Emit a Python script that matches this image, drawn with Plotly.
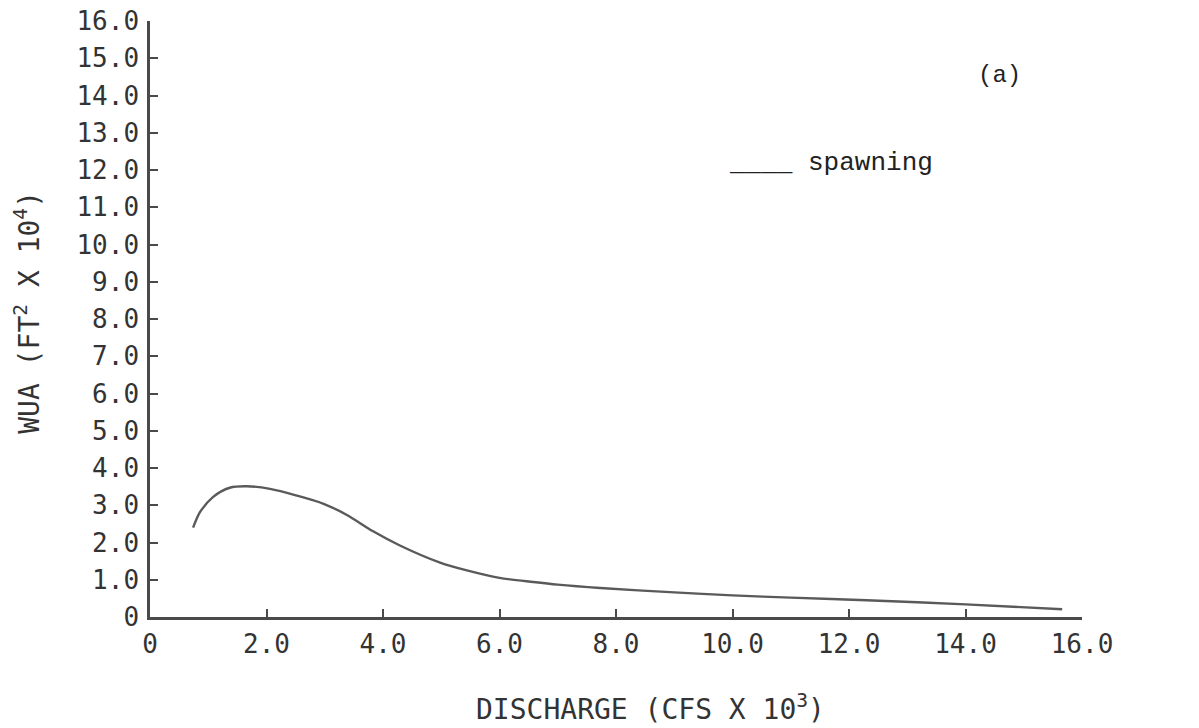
import plotly.graph_objects as go

discharge = [0.74, 0.86, 1.08, 1.37, 1.66, 2.06, 2.52, 2.98, 3.38, 3.83, 4.29, 4.98,
             5.44, 6.00, 6.58, 7.00, 7.73, 9.00, 10.0, 11.0, 12.3, 14.0, 15.66]
wua = [2.40, 2.82, 3.22, 3.47, 3.51, 3.44, 3.26, 3.04, 2.74, 2.30, 1.92, 1.46,
       1.25, 1.05, 0.94, 0.87, 0.78, 0.66, 0.58, 0.52, 0.45, 0.34, 0.21]

x_tickvals = [0, 2, 4, 6, 8, 10, 12, 14, 16]
x_ticktext = ["0", "2.0", "4.0", "6.0", "8.0", "10.0", "12.0", "14.0", "16.0"]
y_tickvals = list(range(0, 17))
y_ticktext = ["0"] + [f"{v}.0" for v in range(1, 17)]

AX = "#4a4a4a"
TXT = "#333333"
TICKFONT = dict(family="DejaVu Sans Mono", size=26, color=TXT)

fig = go.Figure()
fig.add_trace(go.Scatter(x=discharge, y=wua, mode="lines",
                         line=dict(color="#5a5a5a", width=2.4, shape="spline", smoothing=0.8),
                         showlegend=False, hoverinfo="skip"))

# page body adds an 8px offset; margins compensate
fig.update_layout(
    width=1199, height=728,
    margin=dict(l=142, r=125, t=13, b=119),
    paper_bgcolor="white", plot_bgcolor="white",
    showlegend=False,
    xaxis=dict(range=[0, 16], tickvals=x_tickvals, ticktext=x_ticktext,
               ticks="inside", ticklen=8, tickwidth=2, tickcolor=AX,
               showline=True, linecolor=AX, linewidth=2.5, showgrid=False,
               zeroline=False, tickfont=TICKFONT, ticklabelstandoff=2,
               ticklabeloverflow="allow", automargin=False),
    yaxis=dict(range=[0, 16], tickvals=y_tickvals, ticktext=y_ticktext,
               ticks="inside", ticklen=8, tickwidth=2, tickcolor=AX,
               showline=True, linecolor=AX, linewidth=2.5, showgrid=False,
               zeroline=False, tickfont=TICKFONT, ticklabelstandoff=3,
               ticklabeloverflow="allow", automargin=False),
)

# axis titles
fig.add_annotation(x=0.5375, y=-0.152, xref="paper", yref="paper",
                   text="DISCHARGE (CFS X 10<sup>3</sup>)", showarrow=False,
                   xanchor="center", yanchor="middle",
                   font=dict(family="DejaVu Sans Mono", size=28, color=TXT))
fig.add_annotation(x=-0.131, y=0.512, xref="paper", yref="paper",
                   text="WUA (FT<sup>2</sup> X 10<sup>4</sup>)", showarrow=False,
                   textangle=-90, xanchor="center", yanchor="middle",
                   font=dict(family="DejaVu Sans Mono", size=28, color=TXT))

fig.add_annotation(x=0.912, y=14.54, xref="paper", yref="y", text="(a)", showarrow=False,
                   xanchor="center", yanchor="middle",
                   font=dict(family="Liberation Mono", size=24, color="#222222"))
fig.add_annotation(x=9.9, y=12.2, xref="x", yref="y", text="____ spawning", showarrow=False,
                   xanchor="left", yanchor="middle",
                   font=dict(family="Liberation Mono", size=26, color="#222222"))

fig.write_html("out.html")
